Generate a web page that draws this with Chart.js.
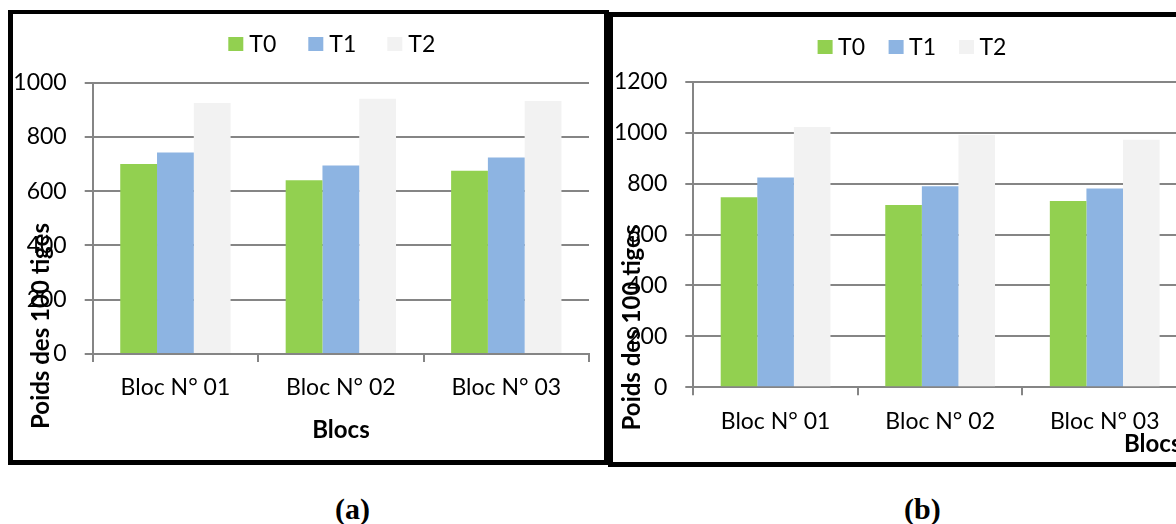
<!DOCTYPE html>
<html>
<head>
<meta charset="utf-8">
<script src="https://cdn.jsdelivr.net/npm/chart.js@4.4.1/dist/chart.umd.min.js"></script>
<style>
  html, body { margin: 0; padding: 0; background: #fff; width: 1176px; height: 524px; overflow: hidden; position: relative; }
  .panel { position: absolute; top: 0; width: 600px; height: 470px; }
  .frame { position: absolute; border: solid #000; box-sizing: border-box; pointer-events: none; }
  #frameA { left: 8px; top: 10px; width: 601px; height: 455px; border-width: 4px 5px 5px 5px; }
  #frameB { left: 608px; top: 12px; width: 640px; height: 455px; border-width: 5px; }
  .caption { position: absolute; top: 492px; font: bold 30px "Liberation Serif", "Times New Roman", serif; color: #000; line-height: 34px; }
</style>
</head>
<body>
<div class="panel" style="left:0px"><canvas id="chartA" width="600" height="470"></canvas></div>
<div class="panel" style="left:610px"><canvas id="chartB" width="600" height="470"></canvas></div>
<div id="frameA" class="frame"></div>
<div id="frameB" class="frame"></div>
<div class="caption" style="left:335px">(a)</div>
<div class="caption" style="left:904px">(b)</div>

<script>
// Blocks and treatments
const categories = ['Bloc N° 01', 'Bloc N° 02', 'Bloc N° 03'];
const treatments = ['T0', 'T1', 'T2'];

// Weight of 100 stems, first trial (a)
const poidsA_T0 = [700, 640, 675];
const poidsA_T1 = [743, 695, 724];
const poidsA_T2 = [925, 941, 933];

// Weight of 100 stems, second trial (b)
const poidsB_T0 = [746, 716, 732];
const poidsB_T1 = [824, 789, 781];
const poidsB_T2 = [1022, 991, 972];

// Value axis ranges
const yMaxA = 1000;
const yMaxB = 1200;
const yStep = 200;

const titleY = 'Poids des 100 tiges';
const titleX = 'Blocs';

const barColors = ['#92D050', '#8DB4E2', '#F2F2F2'];
const gridColor = '#858585';
const FONT = 'Lato, "Open Sans", sans-serif';

// Legend and axis titles drawn at fixed spots in each panel
const decorPlugin = {
  id: 'decor',
  afterDraw(chart, args, opts) {
    const ctx = chart.ctx;
    ctx.save();
    ctx.textBaseline = 'middle';
    ctx.textAlign = 'left';
    chart.data.datasets.forEach((ds, i) => {
      const bx = opts.legendX[i];
      ctx.fillStyle = ds.backgroundColor;
      ctx.fillRect(bx, opts.legendY - 7, 15, 14);
      ctx.fillStyle = '#000';
      ctx.font = '23px ' + FONT;
      ctx.fillText(ds.label, bx + opts.legendGap, opts.legendY + 1);
    });
    // horizontal axis title
    ctx.font = 'bold 24px ' + FONT;
    ctx.textAlign = opts.xTitle.align;
    ctx.fillText(titleX, opts.xTitle.x, opts.xTitle.y);
    // vertical axis title
    ctx.translate(opts.yTitle.x, opts.yTitle.y);
    ctx.rotate(-Math.PI / 2);
    ctx.font = 'bold 24px ' + FONT;
    ctx.textAlign = 'center';
    ctx.fillText(titleY, 0, 0);
    ctx.restore();
  }
};

function buildChart(id, series, yMax, geom, decor) {
  return new Chart(document.getElementById(id), {
    type: 'bar',
    data: {
      labels: categories,
      datasets: series.map((vals, i) => ({
        label: treatments[i],
        data: vals,
        backgroundColor: barColors[i],
        borderWidth: 0,
        categoryPercentage: 0.667,
        barPercentage: 1.0
      }))
    },
    options: {
      responsive: false,
      animation: false,
      events: [],
      layout: { padding: { top: geom.top, right: geom.right, left: 0, bottom: 0 } },
      plugins: {
        legend: { display: false },
        tooltip: { enabled: false },
        decor: decor
      },
      scales: {
        x: {
          offset: true,
          grid: { display: true, offset: true, drawOnChartArea: false, drawTicks: true, tickLength: 8, color: gridColor, lineWidth: 2 },
          border: { display: true, color: gridColor, width: 2 },
          ticks: { color: '#000', font: { family: FONT, size: 23 }, padding: 12, maxRotation: 0 },
          afterFit(scale) { scale.height = geom.xHeight; }
        },
        y: {
          min: 0,
          max: yMax,
          grid: { color: gridColor, lineWidth: 2, drawTicks: true, tickLength: 8 },
          border: { display: true, color: gridColor, width: 2 },
          ticks: {
            stepSize: yStep, color: '#000', font: { family: FONT, size: 23 }, padding: 18,
            callback: (v) => String(v)
          },
          afterFit(scale) { scale.width = geom.yWidth; }
        }
      }
    },
    plugins: [decorPlugin]
  });
}

buildChart('chartA', [poidsA_T0, poidsA_T1, poidsA_T2], yMaxA,
  { top: 82.7, right: 11, xHeight: 116, yWidth: 92.7 },
  { legendX: [228.3, 308.3, 387.3], legendY: 44, legendGap: 21,
    xTitle: { x: 341, y: 430, align: 'center' },
    yTitle: { x: 41, y: 326 } });

buildChart('chartB', [poidsB_T0, poidsB_T1, poidsB_T2], yMaxB,
  { top: 81.7, right: 23, xHeight: 82.7, yWidth: 83.3 },
  { legendX: [207.6, 278.6, 349], legendY: 47, legendGap: 20.5,
    xTitle: { x: 514, y: 444, align: 'left' },
    yTitle: { x: 22, y: 327.5 } });
</script>
</body>
</html>
